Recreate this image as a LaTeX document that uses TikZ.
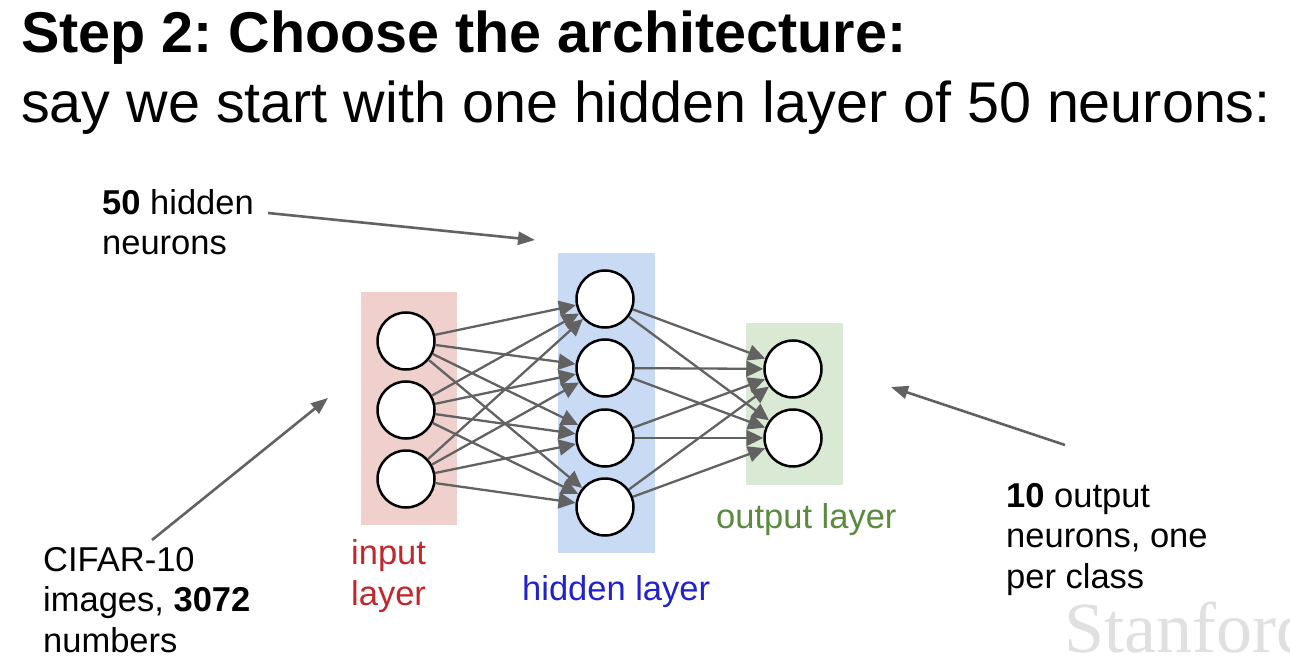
\documentclass[tikz,border=0pt]{standalone}
\usepackage{fontspec}
\setmainfont{Liberation Sans}
\newfontfamily\wmfont{Liberation Serif}
\usetikzlibrary{arrows.meta,%
		positioning}
\definecolor{inbox}{HTML}{EFD0CC}
\definecolor{hidbox}{HTML}{C8DAF4}
\definecolor{outbox}{HTML}{D9E9D3}
\definecolor{inred}{HTML}{C0282C}
\definecolor{hidblue}{HTML}{2222CC}
\definecolor{outgreen}{HTML}{5A8A40}
\definecolor{wiregray}{HTML}{626262}
\definecolor{wmgray}{HTML}{E0E0E0}
\frenchspacing

\begin{document}
\begin{tikzpicture}[x=1pt,y=-1pt,
  neuron/.style={circle,draw=black,line width=2.5pt,fill=white,minimum size=57pt,inner sep=0pt},
  wire/.style={draw=wiregray,line width=2.3pt,-{Triangle[length=17pt,width=16pt]}},
  pointer/.style={draw=wiregray,line width=2.6pt,-{Triangle[length=17pt,width=13pt]}},
  note/.style={anchor=base west,align=left,inner sep=0pt,font=\fontsize{34.5}{40.5}\selectfont}]
  \useasboundingbox (0,0) rectangle (1290,668);

  % heading
  \node[anchor=base west,inner sep=0pt,font=\bfseries\fontsize{57.5}{60}\selectfont] (title) at (21,53) {Step 2: Choose the architecture:};
  \node[anchor=base west,inner sep=0pt,font=\fontsize{57.5}{60}\selectfont] (subtitle) at (21,123) {say we start with one hidden layer of 50 neurons:};

  % layer boxes
  \fill[inbox] (361,292) rectangle (457,525); %input
  \fill[hidbox] (558,253) rectangle (655,553); %hidden
  \fill[outbox] (746,323) rectangle (843,485); %output

  % neurons
  \node[neuron] (i1) at (406,341) {};
  \node[neuron] (i2) at (406,410) {};
  \node[neuron] (i3) at (406,479) {};
  \node[neuron] (h1) at (605,299) {};
  \node[neuron] (h2) at (605,368) {};
  \node[neuron] (h3) at (605,438) {};
  \node[neuron] (h4) at (605,507) {};
  \node[neuron] (o1) at (793,369) {};
  \node[neuron] (o2) at (793,438) {};

  \foreach \i in {1,2,3}
    \foreach \h in {1,...,4}
      \draw[wire] (i\i) -- (h\h);
  \foreach \h in {1,...,4}
    \foreach \o in {1,2}
      \draw[wire] (h\h) -- (o\o);

  % labels (base = last line)
  \node[note,text=inred] (inlabel) at (351,605) {input\\layer};
  \node[note,text=hidblue] (hidlabel) at (522,600) {hidden layer};
  \node[note,text=outgreen] (outlabel) at (716,528) {output layer};

  % notes and pointers
  \node[note] (hidnote) at (102,255) {\textbf{50} hidden\\neurons};
  \node[note] (cifar) at (43,652) {CIFAR-10\\images, \textbf{3072}\\numbers};
  \node[note] (outnote) at (1006,588) {\textbf{10} output\\neurons, one\\per class};
  \coordinate (hidtail) at (268,213);
  \coordinate (hidtip) at (535,240);
  \coordinate (intail) at (152,540);
  \coordinate (intip) at (328,398);
  \coordinate (outtail) at (1065,445);
  \coordinate (outtip) at (891,387);
  \draw[pointer] (hidtail) -- (hidtip);
  \draw[pointer] (intail) -- (intip);
  \draw[pointer] (outtail) -- (outtip);

  % watermark
  \begin{scope}
    \clip (0,0) rectangle (1290,668);
    \node[anchor=base west,inner sep=0pt,text=wmgray,font=\wmfont\fontsize{72}{72}\selectfont] (mark) at (1064,652) {Stanford};
  \end{scope}
\end{tikzpicture}
\end{document}
